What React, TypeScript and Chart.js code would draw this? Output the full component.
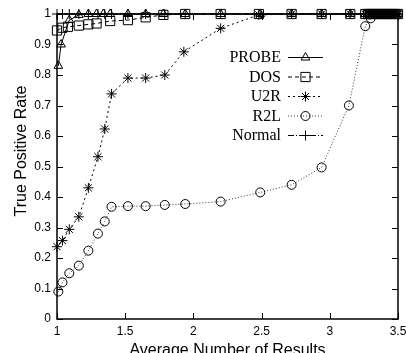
import React, { useEffect, useRef } from 'react';
import { Chart, registerables } from 'chart.js';

Chart.register(...registerables);

const X_TICKS = [1, 1.5, 2, 2.5, 3, 3.5];
const Y_TICKS = [0, 0.1, 0.2, 0.3, 0.4, 0.5, 0.6, 0.7, 0.8, 0.9, 1];

const SERIES_NAMES = ['PROBE', 'DOS', 'U2R', 'R2L', 'Normal'];

const probeX = [1.01, 1.03, 1.09, 1.16, 1.23, 1.29, 1.34, 1.39, 1.52, 1.65, 1.78, 1.94, 2.2, 2.49, 2.72, 2.94, 3.15, 3.26, 3.28, 3.3, 3.32, 3.34, 3.36, 3.38, 3.4, 3.42, 3.44, 3.46, 3.48, 3.5];
const probeY = [0.83, 0.9, 0.98, 0.997, 1, 1, 1, 1, 1, 1, 1, 1, 1, 1, 1, 1, 1, 1, 1, 1, 1, 1, 1, 1, 1, 1, 1, 1, 1, 1];

const dosX = [1.0, 1.04, 1.08, 1.16, 1.23, 1.29, 1.39, 1.52, 1.65, 1.78, 1.94, 2.2, 2.48, 2.72, 2.94, 3.15, 3.26, 3.28, 3.3, 3.32, 3.34, 3.36, 3.38, 3.4, 3.42, 3.44, 3.46, 3.48, 3.5];
const dosY = [0.946, 0.955, 0.958, 0.962, 0.966, 0.969, 0.977, 0.98, 0.989, 0.997, 1, 1, 1, 1, 1, 1, 1, 1, 1, 1, 1, 1, 1, 1, 1, 1, 1, 1, 1];

const u2rX = [1.0, 1.04, 1.09, 1.16, 1.23, 1.3, 1.35, 1.4, 1.52, 1.65, 1.79, 1.93, 2.2, 2.48, 2.72, 2.94, 3.15, 3.26, 3.28, 3.3, 3.32, 3.34, 3.36, 3.38, 3.4, 3.42, 3.44, 3.46, 3.48, 3.5];
const u2rY = [0.237, 0.257, 0.294, 0.335, 0.43, 0.532, 0.623, 0.738, 0.79, 0.79, 0.8, 0.876, 0.953, 0.997, 1, 1, 1, 1, 1, 1, 1, 1, 1, 1, 1, 1, 1, 1, 1, 1];

const r2lX = [1.01, 1.04, 1.09, 1.16, 1.23, 1.3, 1.35, 1.4, 1.52, 1.65, 1.79, 1.94, 2.2, 2.49, 2.72, 2.94, 3.14, 3.26, 3.3, 3.32, 3.34, 3.36, 3.38, 3.4, 3.42, 3.44, 3.46, 3.48, 3.5];
const r2lY = [0.09, 0.12, 0.15, 0.175, 0.224, 0.28, 0.32, 0.368, 0.37, 0.37, 0.374, 0.377, 0.385, 0.415, 0.44, 0.497, 0.7, 0.96, 0.986, 1, 1, 1, 1, 1, 1, 1, 1, 1, 1];

const normalX = [1.0, 1.04, 1.09, 1.16, 1.23, 1.3, 1.35, 1.4, 1.52, 1.65, 1.79, 1.94, 2.2, 2.49, 2.72, 2.94, 3.15, 3.26, 3.28, 3.3, 3.32, 3.34, 3.36, 3.38, 3.4, 3.42, 3.44, 3.46, 3.48, 3.5];
const normalY = [1, 1, 1, 1, 1, 1, 1, 1, 1, 1, 1, 1, 1, 1, 1, 1, 1, 1, 1, 1, 1, 1, 1, 1, 1, 1, 1, 1, 1, 1];

const SANS = '"Liberation Sans", Arial, sans-serif';
const SERIF = '"Liberation Serif", "Times New Roman", serif';

type Style = { point: string; radius: number; dash: number[]; color: string };
const STYLES: Style[] = [
  { point: 'triangle', radius: 5, dash: [], color: '#000' },
  { point: 'rect', radius: 6.5, dash: [4, 3], color: '#000' },
  { point: 'star', radius: 5, dash: [2, 3], color: '#000' },
  { point: 'circle', radius: 4.5, dash: [1, 2], color: '#333' },
  { point: 'cross', radius: 5, dash: [6, 2, 1, 2], color: '#000' },
];

const zip = (xs: number[], ys: number[]) => xs.map((x, i) => ({ x, y: ys[i] }));

function drawMarker(ctx: CanvasRenderingContext2D, style: string, r: number, x: number, y: number) {
  ctx.beginPath();
  if (style === 'triangle') {
    ctx.moveTo(x, y - r);
    ctx.lineTo(x + Math.cos(Math.PI / 6) * r, y + Math.sin(Math.PI / 6) * r);
    ctx.lineTo(x - Math.cos(Math.PI / 6) * r, y + Math.sin(Math.PI / 6) * r);
    ctx.closePath();
  } else if (style === 'rect') {
    const s = r * Math.SQRT1_2;
    ctx.rect(x - s, y - s, 2 * s, 2 * s);
  } else if (style === 'circle') {
    ctx.arc(x, y, r, 0, Math.PI * 2);
  } else if (style === 'cross') {
    ctx.moveTo(x - r, y); ctx.lineTo(x + r, y);
    ctx.moveTo(x, y - r); ctx.lineTo(x, y + r);
  } else if (style === 'star') {
    ctx.moveTo(x - r, y); ctx.lineTo(x + r, y);
    ctx.moveTo(x, y - r); ctx.lineTo(x, y + r);
    const d = r * Math.SQRT1_2;
    ctx.moveTo(x - d, y - d); ctx.lineTo(x + d, y + d);
    ctx.moveTo(x - d, y + d); ctx.lineTo(x + d, y - d);
  }
  ctx.stroke();
}

const framePlugin = {
  id: 'frame',
  afterDraw(chart: any) {
    const { ctx, chartArea } = chart;
    const { left, right, top, bottom } = chartArea;
    const xs = chart.scales.x;
    const ys = chart.scales.y;
    ctx.save();
    ctx.strokeStyle = '#000';
    ctx.lineWidth = 1.5;
    ctx.setLineDash([]);
    ctx.strokeRect(left, top, right - left, bottom - top);
    ctx.lineWidth = 1;
    const tl = 6;
    ctx.beginPath();
    Y_TICKS.forEach((v) => {
      const py = Math.round(ys.getPixelForValue(v)) + 0.5;
      ctx.moveTo(left, py); ctx.lineTo(left + tl, py);
      ctx.moveTo(right, py); ctx.lineTo(right - tl, py);
    });
    X_TICKS.forEach((v) => {
      const px = Math.round(xs.getPixelForValue(v)) + 0.5;
      ctx.moveTo(px, bottom); ctx.lineTo(px, bottom - tl);
      ctx.moveTo(px, top); ctx.lineTo(px, top + tl);
    });
    ctx.stroke();

    // axis titles
    ctx.fillStyle = '#000';
    ctx.font = `16px ${SANS}`;
    ctx.textAlign = 'center';
    ctx.textBaseline = 'alphabetic';
    ctx.fillText('Average Number of Results', (left + right) / 2, 355);
    ctx.save();
    ctx.translate(26, 151);
    ctx.rotate(-Math.PI / 2);
    ctx.fillText('True Positive Rate', 0, 0);
    ctx.restore();

    // legend
    ctx.font = `16px ${SERIF}`;
    ctx.textAlign = 'right';
    ctx.textBaseline = 'middle';
    SERIES_NAMES.forEach((name, i) => {
      const y = 57 + i * 19.5;
      const st = STYLES[i];
      ctx.fillStyle = '#000';
      ctx.fillText(name, 281, y + 1);
      ctx.strokeStyle = st.color;
      ctx.lineWidth = 1;
      ctx.setLineDash(st.dash);
      ctx.beginPath();
      ctx.moveTo(288, y + 0.5); ctx.lineTo(323, y + 0.5);
      ctx.stroke();
      ctx.setLineDash([]);
      ctx.strokeStyle = '#000';
      drawMarker(ctx, st.point, st.radius, 305.5, y + 0.5);
    });
    ctx.restore();
  },
};

export default function App() {
  const ref = useRef<HTMLCanvasElement | null>(null);
  useEffect(() => {
    if (!ref.current) return;
    const dataArrays = [zip(probeX, probeY), zip(dosX, dosY), zip(u2rX, u2rY), zip(r2lX, r2lY), zip(normalX, normalY)];
    const chart = new Chart(ref.current, {
      type: 'scatter',
      data: {
        datasets: SERIES_NAMES.map((name, i) => ({
          label: name,
          data: dataArrays[i],
          showLine: true,
          borderColor: STYLES[i].color,
          borderWidth: 1,
          borderDash: STYLES[i].dash,
          pointStyle: STYLES[i].point as any,
          pointRadius: STYLES[i].radius,
          pointBorderColor: '#000',
          pointBackgroundColor: 'rgba(0,0,0,0)',
          pointBorderWidth: 1,
          clip: false as any,
        })),
      },
      options: {
        responsive: false,
        animation: false,
        layout: { padding: { top: 14, right: 8, left: 0, bottom: 0 } },
        plugins: { legend: { display: false }, tooltip: { enabled: false } },
        scales: {
          x: {
            type: 'linear',
            min: 1,
            max: 3.5,
            afterBuildTicks: (s: any) => { s.ticks = X_TICKS.map((v) => ({ value: v })); },
            afterFit: (s: any) => { s.height = 34; s.paddingLeft = 0; s.paddingRight = 0; },
            ticks: {
              font: { family: SANS, size: 12 },
              color: '#000',
              padding: 5,
              maxRotation: 0,
              autoSkip: false,
              callback: (v: any) => String(v),
            },
            grid: { display: false, drawTicks: false },
            border: { display: false },
          },
          y: {
            type: 'linear',
            min: 0,
            max: 1,
            afterBuildTicks: (s: any) => { s.ticks = Y_TICKS.map((v) => ({ value: v })); },
            afterFit: (s: any) => { s.width = 57; s.paddingTop = 0; s.paddingBottom = 0; },
            ticks: {
              font: { family: SANS, size: 12 },
              color: '#000',
              padding: 6,
              autoSkip: false,
              callback: (v: any) => String(Math.round(Number(v) * 10) / 10),
            },
            grid: { display: false, drawTicks: false },
            border: { display: false },
          },
        },
      },
      plugins: [framePlugin],
    });
    return () => chart.destroy();
  }, []);
  return (
    <div style={{ position: 'fixed', left: 0, top: 0, width: 406, height: 353, background: '#fff' }}>
      <canvas ref={ref} width={406} height={353} style={{ width: 406, height: 353, display: 'block' }} />
    </div>
  );
}
